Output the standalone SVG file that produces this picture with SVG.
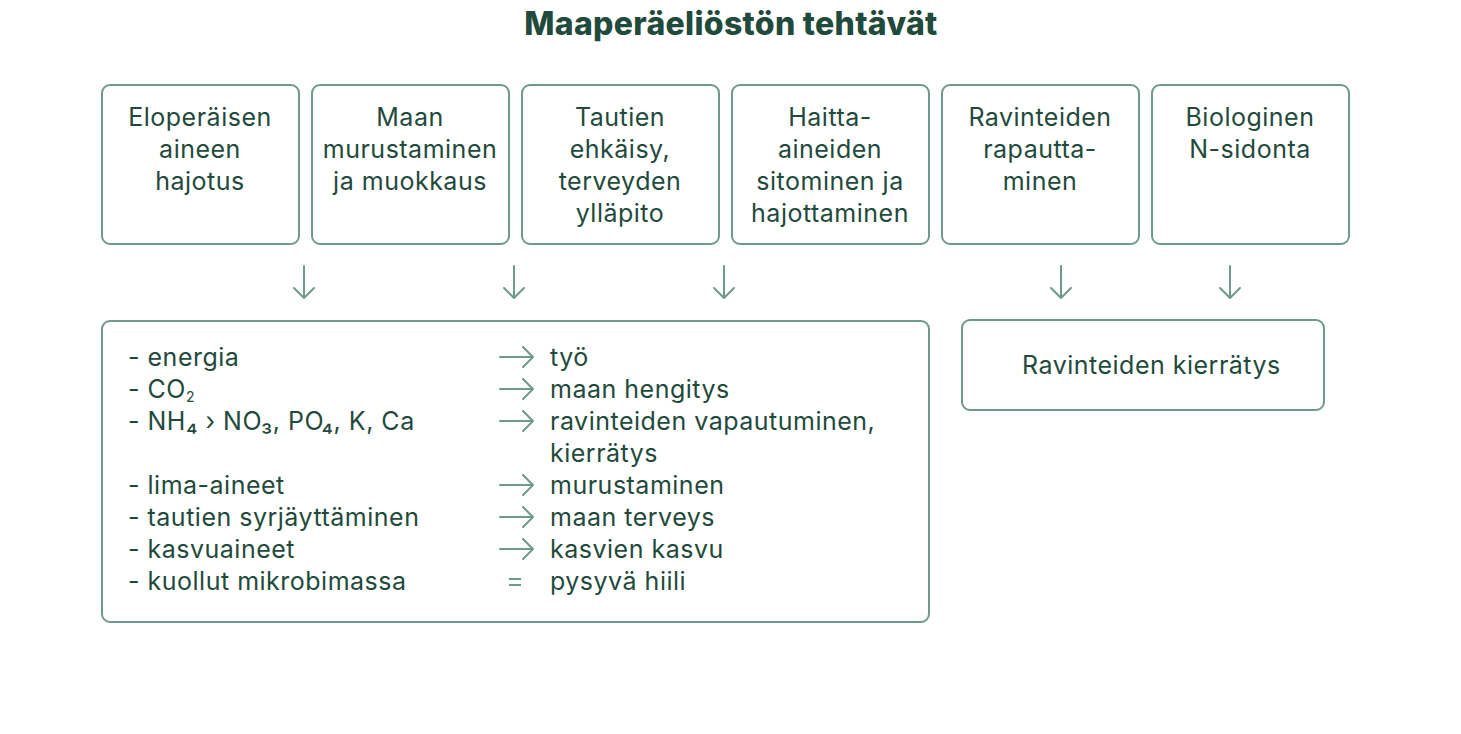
<svg xmlns="http://www.w3.org/2000/svg" width="1461" height="734" viewBox="0 0 1461 734">
<style>
.box{fill:#fff;stroke:#6e9a89;stroke-width:2}
.t{font-family:Inter,"Noto Sans","Liberation Sans",sans-serif;font-size:25px;letter-spacing:0.5px;fill:#1f4a3c}
.c{text-anchor:middle}
.title{font-family:Inter,"Noto Sans","Liberation Sans",sans-serif;font-size:32px;font-weight:800;letter-spacing:0.3px;fill:#1f4a3c;text-anchor:middle}
.ar{fill:none;stroke:#6e9a89;stroke-width:2;stroke-linecap:round;stroke-linejoin:round}
.eq{fill:#6e9a89}
</style>
<rect width="1461" height="734" fill="#fff"/>
<text class="title" x="731" y="35">Maaperäeliöstön tehtävät</text>

<g id="n1"><rect class="box" x="102" y="85" width="197" height="159" rx="8"/>
<text class="t c" x="200" y="126">Eloperäisen</text><text class="t c" x="200" y="158">aineen</text><text class="t c" x="200" y="190">hajotus</text></g>
<g id="n2"><rect class="box" x="312" y="85" width="197" height="159" rx="8"/>
<text class="t c" x="410" y="126">Maan</text><text class="t c" x="410" y="158">murustaminen</text><text class="t c" x="410" y="190">ja muokkaus</text></g>
<g id="n3"><rect class="box" x="522" y="85" width="197" height="159" rx="8"/>
<text class="t c" x="620" y="126">Tautien</text><text class="t c" x="620" y="158">ehkäisy,</text><text class="t c" x="620" y="190">terveyden</text><text class="t c" x="620" y="222">ylläpito</text></g>
<g id="n4"><rect class="box" x="732" y="85" width="197" height="159" rx="8"/>
<text class="t c" x="830" y="126">Haitta-</text><text class="t c" x="830" y="158">aineiden</text><text class="t c" x="830" y="190">sitominen ja</text><text class="t c" x="830" y="222">hajottaminen</text></g>
<g id="n5"><rect class="box" x="942" y="85" width="197" height="159" rx="8"/>
<text class="t c" x="1040" y="126">Ravinteiden</text><text class="t c" x="1040" y="158">rapautta-</text><text class="t c" x="1040" y="190">minen</text></g>
<g id="n6"><rect class="box" x="1152" y="85" width="197" height="159" rx="8"/>
<text class="t c" x="1250" y="126">Biologinen</text><text class="t c" x="1250" y="158">N-sidonta</text></g>

<g id="connectors">
<path class="ar" d="M304 266V298M294 288L304 298L314 288"/>
<path class="ar" d="M514 266V298M504 288L514 298L524 288"/>
<path class="ar" d="M724 266V298M714 288L724 298L734 288"/>
<path class="ar" d="M1061 266V298M1051 288L1061 298L1071 288"/>
<path class="ar" d="M1230 266V298M1220 288L1230 298L1240 288"/>
</g>

<g id="list">
<rect class="box" x="102" y="321" width="827" height="301" rx="8"/>
<text class="t" x="128" y="366">- energia</text>
<text class="t" x="128" y="398">- CO<tspan font-size="14" dy="4">2</tspan></text>
<text class="t" x="128" y="430">- NH₄ › NO₃, PO₄, K, Ca</text>
<text class="t" x="128" y="494">- lima-aineet</text>
<text class="t" x="128" y="526">- tautien syrjäyttäminen</text>
<text class="t" x="128" y="558">- kasvuaineet</text>
<text class="t" x="128" y="590">- kuollut mikrobimassa</text>
<g id="list-arrows">
<path class="ar" d="M500 357H533M523 347L533 357L523 367"/>
<path class="ar" d="M500 389H533M523 379L533 389L523 399"/>
<path class="ar" d="M500 421H533M523 411L533 421L523 431"/>
<path class="ar" d="M500 485H533M523 475L533 485L523 495"/>
<path class="ar" d="M500 517H533M523 507L533 517L523 527"/>
<path class="ar" d="M500 549H533M523 539L533 549L523 559"/>
<rect class="eq" x="509" y="578" width="12" height="2"/>
<rect class="eq" x="509" y="584" width="12" height="2"/>
</g>
<text class="t" x="550" y="366">työ</text>
<text class="t" x="550" y="398">maan hengitys</text>
<text class="t" x="550" y="430">ravinteiden vapautuminen,</text>
<text class="t" x="550" y="462">kierrätys</text>
<text class="t" x="550" y="494">murustaminen</text>
<text class="t" x="550" y="526">maan terveys</text>
<text class="t" x="550" y="558">kasvien kasvu</text>
<text class="t" x="550" y="590">pysyvä hiili</text>
</g>

<g id="n7"><rect class="box" x="962" y="320" width="362" height="90" rx="8"/>
<text class="t" x="1022" y="374">Ravinteiden kierrätys</text></g>
</svg>
